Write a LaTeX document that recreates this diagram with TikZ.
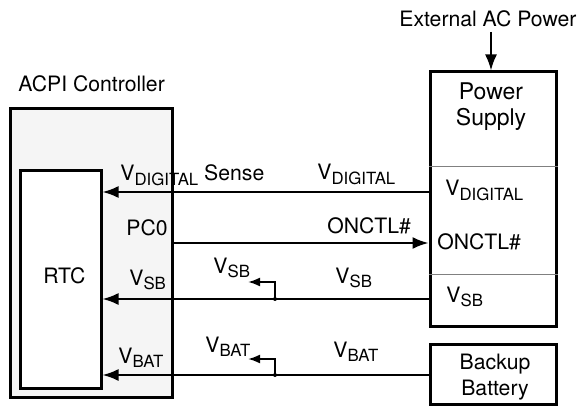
\documentclass[tikz,border=0pt]{standalone}
\usepackage{fontspec}
\setmainfont{TeX Gyre Heros}
\usetikzlibrary{arrows.meta}
\newcommand{\vsub}[1]{V\raisebox{-0.42ex}{\fontsize{8.4}{10}\selectfont #1}}
\tikzset{
  blk/.style={draw, line width=1.5pt, inner sep=0pt},
  wire/.style={line width=1pt},
  bigtip/.style={wire, -{Latex[length=8pt,width=6pt]}},
  taptip/.style={wire, -{Latex[length=6pt,width=4.5pt]}},
  lbl/.style={anchor=base west, inner sep=0pt},
  divider/.style={line width=0.5pt, gray}
}
\begin{document}
\begin{tikzpicture}[x=0.5pt, y=-0.5pt, every node/.style={font=\fontsize{10.6}{13}\selectfont}]
        \useasboundingbox (0,0) rectangle (577,406);
        % blocks
        \node [blk, fill=black!4, minimum width=81pt, minimum height=144pt] (acpi) at (91,253) {};
        \node [blk, fill=white, minimum width=40.5pt, minimum height=108.5pt] (rtc) at (60.5,279.5) {};
        \node [blk, minimum width=63pt, minimum height=127pt] (ps) at (493,199) {};
        \node [blk, minimum width=63pt, minimum height=30pt] (bat) at (493,374) {};
        \draw [divider] (ps.west |- 0,167) -- (ps.east |- 0,167);
        \draw [divider] (ps.west |- 0,274) -- (ps.east |- 0,274);
        % titles
        \node [lbl] (acpitxt) at (18,92) {ACPI Controller};
        \node [lbl] (exttxt) at (399,27) {External AC Power};
        \node [align=center, inner sep=0pt, font=\fontsize{11.5}{13}\selectfont] (pstxt) at (491,107) {Power\\Supply};
        \node [align=center, inner sep=0pt] (battxt) at (495,377) {Backup\\Battery};
        \node [lbl] (rtctxt) at (43,283) {RTC};
        \coordinate (extarr) at (491,32);
        \draw [bigtip] (extarr) -- (extarr |- ps.north);
        % wire end points
        \coordinate (dig) at (ps.west |- 0,192);
        \coordinate (onc) at (ps.west |- 0,243);
        \coordinate (sb) at (ps.west |- 0,299);
        \coordinate (vbat) at (bat.west |- 0,375);
        \coordinate (pc) at (acpi.east |- 0,243);
        \coordinate (sbdot) at (275,299);
        \coordinate (batdot) at (275,375);
        \coordinate (sbtap) at (248,282);
        \coordinate (battap) at (248,359);
        % wires
        \draw [bigtip] (dig) -- (dig -| rtc.east);
        \draw [bigtip] (pc) -- (onc);
        \draw [bigtip] (sb) -- (sb -| rtc.east);
        \draw [bigtip] (vbat) -- (vbat -| rtc.east);
        \draw [taptip] (sbdot) |- (sbtap);
        \draw [taptip] (batdot) |- (battap);
        \fill (sbdot) circle[radius=2];
        \fill (batdot) circle[radius=2];
        % labels
        \node [lbl] (l1) at (120,181) {\vsub{DIGITAL} Sense};
        \node [lbl] (l2) at (317,180) {\vsub{DIGITAL}};
        \node [lbl] (l3) at (445,196) {\vsub{DIGITAL}};
        \node [lbl] (l4) at (126,235) {PC0};
        \node [lbl] (l5) at (327,233) {ONCTL\#};
        \node [lbl] (l6) at (437,249) {ONCTL\#};
        \node [lbl] (l7) at (129,285) {\vsub{SB}};
        \node [lbl] (l8) at (213,273) {\vsub{SB}};
        \node [lbl] (l9) at (335,283) {\vsub{SB}};
        \node [lbl] (l10) at (446,302) {\vsub{SB}};
        \node [lbl] (l11) at (118,363) {\vsub{BAT}};
        \node [lbl] (l12) at (205,352) {\vsub{BAT}};
        \node [lbl] (l13) at (333,357) {\vsub{BAT}};
\end{tikzpicture}
\end{document}
